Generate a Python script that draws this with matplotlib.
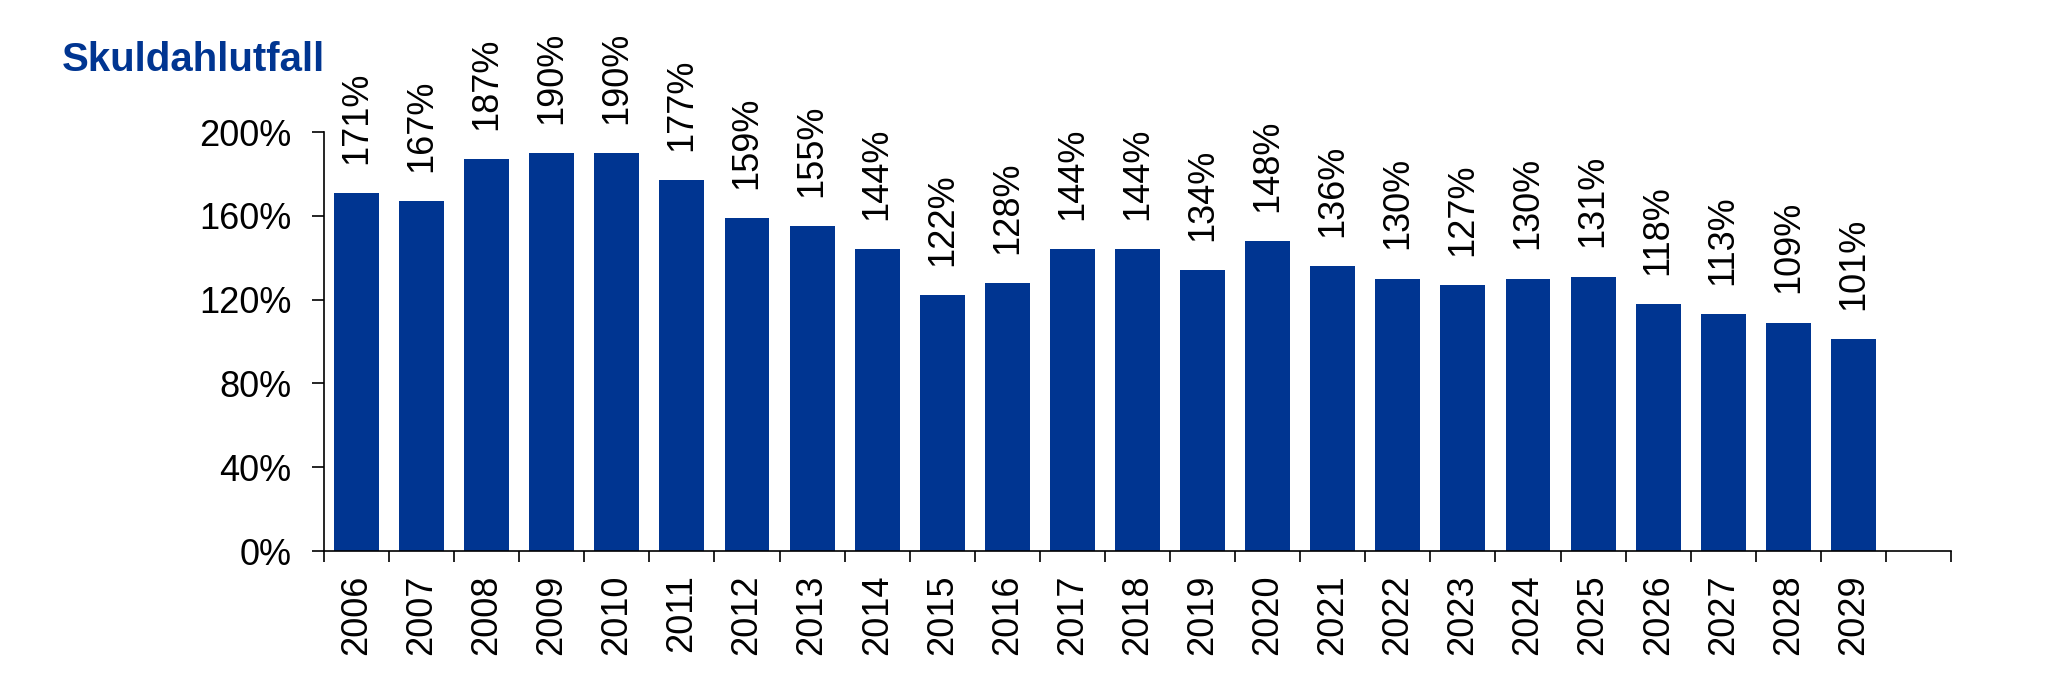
import numpy as np
import matplotlib.pyplot as plt

years = ['2006', '2007', '2008', '2009', '2010', '2011', '2012', '2013',
         '2014', '2015', '2016', '2017', '2018', '2019', '2020', '2021',
         '2022', '2023', '2024', '2025', '2026', '2027', '2028', '2029']
ratio = [171, 167, 187, 190, 190, 177, 159, 155, 144, 122, 128, 144,
         144, 134, 148, 136, 130, 127, 130, 131, 118, 113, 109, 101]
yticks = [0, 40, 80, 120, 160, 200]

blue = '#003591'
plt.rcParams['font.family'] = ['Liberation Sans', 'DejaVu Sans']

fig = plt.figure(figsize=(20.68, 6.82), dpi=100)
ax = fig.add_axes([0.15667, 0.19208, 0.78675, 0.61437])

x = np.arange(len(years))
bars = ax.bar(x, ratio, width=0.69, color=blue)

# value labels above the bars
for xi, v in zip(x, ratio):
    ax.annotate(f'{v}%', (xi, v), xytext=(0, 21), textcoords='offset points',
                rotation=90, ha='center', va='bottom', fontsize=26)

ax.set_xlim(-0.5, len(years) + 0.5)
ax.set_ylim(0, 200)
ax.set_yticks(yticks)
ax.set_yticklabels([f'{t}%' for t in yticks])

# ticks between categories, labels centred on bars
ax.set_xticks(np.arange(-0.5, len(years) + 1, 1))
ax.set_xticklabels([])
ax.set_xticks(x, minor=True)
ax.set_xticklabels(years, minor=True, rotation=90, fontsize=26)
ax.tick_params(axis='x', which='major', direction='out', length=8, width=1.2)
ax.tick_params(axis='x', which='minor', length=0, pad=17)
ax.tick_params(axis='y', direction='out', length=8.5, width=1.2, labelsize=26, pad=15)

for s in ['top', 'right']:
    ax.spines[s].set_visible(False)
ax.spines['left'].set_linewidth(1.2)
ax.spines['bottom'].set_linewidth(1.2)

fig.text(0.02998, 0.8959, 'Skuldahlutfall', color=blue, fontsize=29,
         fontweight='bold', va='baseline', ha='left')

fig.savefig('out.png', dpi=100)
